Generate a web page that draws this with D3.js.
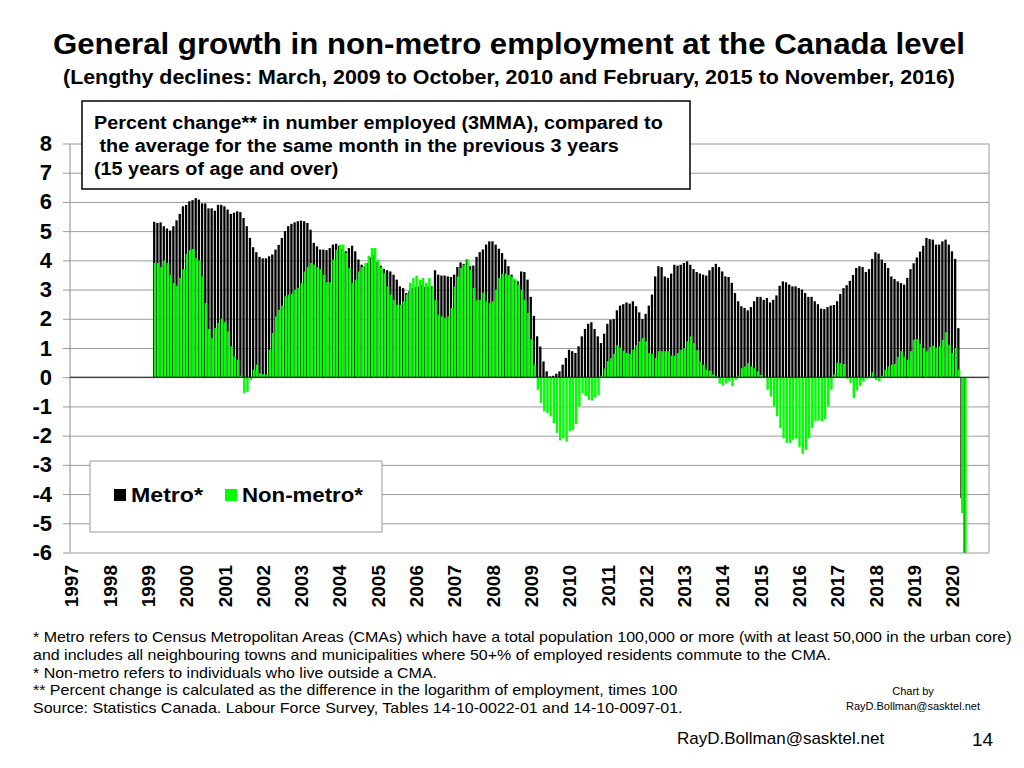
<!DOCTYPE html>
<html>
<head>
<meta charset="utf-8">
<script src="https://cdn.jsdelivr.net/npm/d3@7"></script>
<style>
  body { margin: 0; background: #fff; }
  svg { display: block; font-family: "Liberation Sans", Arial, Helvetica, sans-serif; }
</style>
</head>
<body>
<svg id="chart" width="1024" height="768"></svg>
<script>
// Texts
var title = 'General growth in non-metro employment at the Canada level'
var subtitle = '(Lengthy declines: March, 2009 to October, 2010 and February, 2015 to November, 2016)'
var boxLines = [
  'Percent change** in number employed (3MMA), compared to',
  ' the average for the same month in the previous 3 years',
  '(15 years of age and over)'
]
var notes = [
  '* Metro refers to Census Metropolitan Areas (CMAs) which have a total population 100,000 or more (with at least 50,000 in the urban core)',
  'and includes all neighbouring towns and municipalities where 50+% of employed residents commute to the CMA.',
  '* Non-metro refers to individuals who live outside a CMA.',
  '** Percent change is calculated as the difference in the logarithm of employment, times 100',
  'Source: Statistics Canada. Labour Force Survey, Tables 14-10-0022-01 and 14-10-0097-01.'
]
var credit = ['Chart by', 'RayD.Bollman@sasktel.net']
var footer = 'RayD.Bollman@sasktel.net'
var pageNo = '14'

// Axis labels
var yearLabels = ['1997', '1998', '1999', '2000', '2001', '2002', '2003', '2004',
  '2005', '2006', '2007', '2008', '2009', '2010', '2011', '2012', '2013', '2014',
  '2015', '2016', '2017', '2018', '2019', '2020']
var yTicks = [8, 7, 6, 5, 4, 3, 2, 1, 0, -1, -2, -3, -4, -5, -6]
var seriesNames = ['Metro*', 'Non-metro*']

// Monthly values (3MMA), first value is March 1999, last is May 2020
var firstMonth = '1999-03'
var metro = [
  5.32, 5.28, 5.3, 5.17, 5.09, 5.02, 5.17, 5.37, 5.59, 5.85, // 1999
  5.9, 6.02, 6.06, 6.13, 6.08, 5.95, 5.95, 5.78, 5.78, 5.7, 5.9, 5.9, // 2000
  5.85, 5.74, 5.59, 5.63, 5.68, 5.65, 5.45, 5.17, 4.77, 4.45, 4.28, 4.12, // 2001
  4.07, 4.07, 4.14, 4.2, 4.37, 4.53, 4.77, 5.0, 5.17, 5.25, 5.3, 5.34, // 2002
  5.36, 5.34, 5.28, 5.05, 4.6, 4.48, 4.37, 4.37, 4.35, 4.42, 4.54, 4.57, // 2003
  4.5, 4.4, 4.31, 4.42, 4.5, 4.31, 4.03, 3.85, 3.8, 3.9, 4.1, 4.2, // 2004
  3.95, 3.82, 3.7, 3.66, 3.62, 3.51, 3.34, 3.11, 3.05, 2.88, 2.95, 3.05, // 2005
  3.1, 3.1, 3.15, 3.1, 3.1, 3.11, 3.66, 3.51, 3.48, 3.48, 3.45, 3.43, // 2006
  3.51, 3.77, 3.93, 3.88, 4.03, 3.8, 3.82, 4.12, 4.28, 4.37, 4.54, 4.65, // 2007
  4.65, 4.54, 4.4, 4.25, 4.03, 3.8, 3.51, 3.34, 3.28, 3.62, 3.6, 3.34, // 2008
  2.75, 2.1, 1.4, 1.05, 0.54, 0.2, 0.03, 0.05, 0.12, 0.2, 0.43, 0.66, // 2009
  0.94, 0.89, 0.83, 1.06, 1.4, 1.65, 1.83, 1.88, 1.65, 1.4, 1.17, 1.49, // 2010
  1.83, 1.97, 1.99, 2.29, 2.45, 2.5, 2.56, 2.52, 2.6, 2.43, 2.22, 1.99, // 2011
  2.17, 2.45, 2.83, 3.45, 3.8, 3.77, 3.45, 3.4, 3.55, 3.85, 3.82, 3.85, // 2012
  3.91, 3.97, 3.85, 3.7, 3.6, 3.55, 3.51, 3.48, 3.66, 3.77, 3.88, 3.77, // 2013
  3.62, 3.45, 3.43, 3.23, 2.88, 2.6, 2.43, 2.37, 2.29, 2.4, 2.6, 2.75, // 2014
  2.75, 2.65, 2.71, 2.56, 2.65, 2.8, 3.13, 3.28, 3.25, 3.17, 3.11, 3.11, // 2015
  3.05, 3.0, 2.88, 2.75, 2.75, 2.6, 2.5, 2.35, 2.33, 2.4, 2.45, 2.47, // 2016
  2.6, 2.85, 3.05, 3.15, 3.3, 3.5, 3.74, 3.8, 3.77, 3.6, 3.7, 4.05, // 2017
  4.28, 4.23, 4.03, 3.91, 3.74, 3.45, 3.36, 3.28, 3.22, 3.17, 3.4, 3.7, // 2018
  3.9, 4.1, 4.3, 4.5, 4.77, 4.73, 4.71, 4.54, 4.54, 4.65, 4.71, 4.54, // 2019
  4.31, 4.05, 1.68, -4.14, -7 // 2020
]
var nonMetro = [
  3.91, 3.91, 3.77, 4.0, 3.91, 3.51, 3.23, 3.13, 3.4, 3.7, // 1999
  4.23, 4.35, 4.39, 4.08, 4.0, 3.45, 2.54, 1.65, 1.34, 1.69, 1.86, 2.0, // 2000
  1.88, 1.57, 1.06, 0.71, 0.6, 0.05, -0.55, -0.5, -0.1, 0.26, 0.43, 0.14, // 2001
  0.1, 0.1, 0.94, 1.51, 2.08, 2.31, 2.45, 2.77, 2.83, 2.86, 3.0, 3.06, // 2002
  3.23, 3.62, 3.78, 3.91, 3.85, 3.77, 3.7, 3.51, 3.25, 3.25, 4.03, 4.37, // 2003
  4.54, 4.54, 4.25, 3.74, 3.23, 3.34, 3.62, 3.77, 3.91, 4.16, 4.42, 4.42, // 2004
  4.03, 3.77, 3.57, 3.11, 2.83, 2.65, 2.48, 2.48, 2.6, 2.83, 3.23, 3.4, // 2005
  3.48, 3.34, 3.4, 3.23, 3.4, 3.11, 2.65, 2.14, 2.08, 2.03, 2.08, 2.37, // 2006
  3.11, 3.45, 3.74, 3.85, 4.03, 3.68, 3.06, 2.63, 2.65, 2.9, 2.6, 2.54, // 2007
  2.6, 3.0, 3.4, 3.55, 3.55, 3.5, 3.45, 3.35, 3.17, 3.0, 2.65, 2.2, // 2008
  1.3, 0.43, -0.43, -0.88, -1.17, -1.23, -1.34, -1.57, -1.91, -2.16, -2.08, -2.2, // 2009
  -1.85, -1.8, -1.6, -1.0, -0.55, -0.65, -0.78, -0.8, -0.7, -0.62, 0.05, 0.3, // 2010
  0.55, 0.65, 0.8, 1.1, 1.0, 0.9, 0.83, 0.8, 0.94, 1.1, 1.23, 1.34, // 2011
  1.23, 0.83, 0.8, 0.66, 0.89, 0.89, 0.89, 0.89, 0.74, 0.74, 0.83, 0.94, // 2012
  1.0, 1.23, 1.4, 1.17, 0.92, 0.54, 0.43, 0.26, 0.23, 0.1, 0.03, -0.22, // 2013
  -0.29, -0.22, -0.14, -0.31, -0.09, 0.05, 0.31, 0.37, 0.49, 0.37, 0.31, 0.2, // 2014
  0.08, -0.03, -0.43, -0.66, -1.0, -1.34, -1.74, -2.08, -2.25, -2.25, -2.14, -2.1, // 2015
  -2.4, -2.62, -2.48, -2.08, -1.74, -1.51, -1.48, -1.51, -1.43, -1.0, -0.43, 0.1, // 2016
  0.5, 0.48, 0.45, -0.05, -0.2, -0.71, -0.45, -0.3, -0.15, -0.05, 0.02, 0.17, // 2017
  -0.1, -0.14, 0.05, 0.26, 0.37, 0.43, 0.46, 0.7, 0.89, 0.71, 0.6, 0.89, // 2018
  1.28, 1.31, 1.15, 1.0, 0.89, 1.03, 1.08, 1.0, 1.06, 1.28, 1.54, 1.11, // 2019
  0.83, 1.0, 0.26, -4.65, -7 // 2020
]

var colors = { metro: '#000000', nonMetro: '#00ff00' }

// Month categories for the whole axis
var months = []
yearLabels.forEach(function(yr) {
  for (var m = 1; m <= 12; m++) months.push(yr + '-' + (m < 10 ? '0' + m : m))
})
var start = months.indexOf(firstMonth)

var svg = d3.select('#chart')
var plot = { left: 70, right: 989, top: 143.5, bottom: 552.5 }

var x = d3.scaleBand().domain(months).range([plot.left, plot.right])
var y = d3.scaleLinear().domain([-6, 8]).range([plot.bottom, plot.top])
var bw = x.bandwidth()

// the slide is a bit wider than the fonts, stretch text horizontally
function stretch(sel, k) {
  sel.each(function() {
    var w = this.getComputedTextLength()
    d3.select(this).attr('textLength', w * k).attr('lengthAdjust', 'spacingAndGlyphs')
  })
}

svg.append('rect').attr('width', 1024).attr('height', 768).attr('fill', '#fff')

// Title
svg.append('text')
  .attr('x', 509).attr('y', 54)
  .attr('text-anchor', 'middle')
  .attr('font-size', 29).attr('font-weight', 'bold')
  .attr('textLength', 912).attr('lengthAdjust', 'spacingAndGlyphs')
  .text(title)
svg.append('text')
  .attr('x', 509).attr('y', 84)
  .attr('text-anchor', 'middle')
  .attr('font-size', 19.5).attr('font-weight', 'bold')
  .attr('textLength', 892).attr('lengthAdjust', 'spacingAndGlyphs')
  .text(subtitle)

// Y axis with gridlines
var yAxis = svg.append('g')
  .attr('transform', 'translate(63,0)')
  .call(d3.axisLeft(y)
    .tickValues(yTicks)
    .tickSizeInner(-(plot.right - 63))
    .tickSizeOuter(0)
    .tickPadding(11)
    .tickFormat(function(d) { return String(d) }))
yAxis.select('.domain').remove()
yAxis.selectAll('line').attr('stroke', '#9a9a9a')
yAxis.selectAll('text')
  .attr('font-size', 22).attr('font-weight', 'bold')
  .attr('fill', '#000')
  .attr('font-family', '"Liberation Sans", Arial, sans-serif')

// frame
svg.append('line')
  .attr('x1', plot.left).attr('x2', plot.left)
  .attr('y1', plot.top).attr('y2', plot.bottom)
  .attr('stroke', '#8a8a8a')
svg.append('line')
  .attr('x1', plot.right).attr('x2', plot.right)
  .attr('y1', plot.top).attr('y2', plot.bottom)
  .attr('stroke', '#9a9a9a')

// Bars
svg.append('clipPath').attr('id', 'clip')
  .append('rect')
  .attr('x', plot.left).attr('y', plot.top)
  .attr('width', plot.right - plot.left).attr('height', plot.bottom - plot.top)

var bars = svg.append('g').attr('clip-path', 'url(#clip)')

bars.append('g').selectAll('rect')
  .data(metro)
  .join('rect')
  .attr('x', function(d, i) { return x(months[start + i]) + 0.1 })
  .attr('width', bw * 0.72)
  .attr('y', function(d) { return y(Math.max(0, d)) })
  .attr('height', function(d) { return Math.abs(y(d) - y(0)) })
  .attr('fill', colors.metro)

bars.append('g').selectAll('rect')
  .data(nonMetro)
  .join('rect')
  .attr('x', function(d, i) { return x(months[start + i]) + bw * 0.25 })
  .attr('width', bw * 0.75)
  .attr('y', function(d) { return y(Math.max(0, d)) })
  .attr('height', function(d) { return Math.abs(y(d) - y(0)) })
  .attr('fill', colors.nonMetro)

// zero line
svg.append('line')
  .attr('x1', plot.left).attr('x2', plot.right)
  .attr('y1', y(0)).attr('y2', y(0))
  .attr('stroke', '#111')

// X axis labels, one per year at January
var xAxis = svg.append('g')
  .attr('transform', 'translate(0,565)')
  .call(d3.axisBottom(x)
    .tickValues(yearLabels.map(function(yr) { return yr + '-01' }))
    .tickFormat(function(d) { return d.slice(0, 4) })
    .tickSize(0))
xAxis.select('.domain').remove()
xAxis.selectAll('text')
  .attr('x', 0).attr('y', 0).attr('dy', '0.36em')
  .attr('transform', 'rotate(-90)')
  .attr('text-anchor', 'end')
  .attr('font-size', 19).attr('font-weight', 'bold')
  .attr('fill', '#000')
  .attr('font-family', '"Liberation Sans", Arial, sans-serif')

// Callout box
var box = svg.append('g')
box.append('rect')
  .attr('x', 82).attr('y', 101).attr('width', 608).attr('height', 88)
  .attr('fill', '#fff').attr('stroke', '#000').attr('stroke-width', 1.5)
box.selectAll('text')
  .data(boxLines)
  .join('text')
  .attr('x', 94)
  .attr('y', function(d, i) { return 129 + i * 23 })
  .attr('font-size', 18).attr('font-weight', 'bold')
  .style('white-space', 'pre')
  .text(function(d) { return d })
  .call(stretch, 1.1)

// Legend
var legend = svg.append('g')
legend.append('rect')
  .attr('x', 90).attr('y', 461).attr('width', 292).attr('height', 71)
  .attr('fill', '#fff').attr('stroke', '#9a9a9a')
var legendItems = [
  { name: seriesNames[0], color: colors.metro, x: 114, w: 72 },
  { name: seriesNames[1], color: colors.nonMetro, x: 225, w: 121 }
]
legendItems.forEach(function(it) {
  legend.append('rect')
    .attr('x', it.x).attr('y', 489).attr('width', 12).attr('height', 12)
    .attr('fill', it.color)
  legend.append('text')
    .attr('x', it.x + 17).attr('y', 502)
    .attr('font-size', 21).attr('font-weight', 'bold')
    .attr('textLength', it.w).attr('lengthAdjust', 'spacingAndGlyphs')
    .text(it.name)
})

// Footnotes
svg.append('g').selectAll('text')
  .data(notes)
  .join('text')
  .attr('x', 33)
  .attr('y', function(d, i) { return 642 + i * 17.8 })
  .attr('font-size', 15)
  .text(function(d) { return d })
  .call(stretch, 1.065)

svg.append('g').selectAll('text')
  .data(credit)
  .join('text')
  .attr('x', 913)
  .attr('y', function(d, i) { return 695 + i * 15 })
  .attr('text-anchor', 'middle')
  .attr('font-size', 11)
  .text(function(d) { return d })

svg.append('text')
  .attr('x', 677).attr('y', 744)
  .attr('font-size', 17)
  .text(footer)
svg.append('text')
  .attr('x', 972).attr('y', 746)
  .attr('font-size', 19)
  .text(pageNo)
</script>
</body>
</html>
